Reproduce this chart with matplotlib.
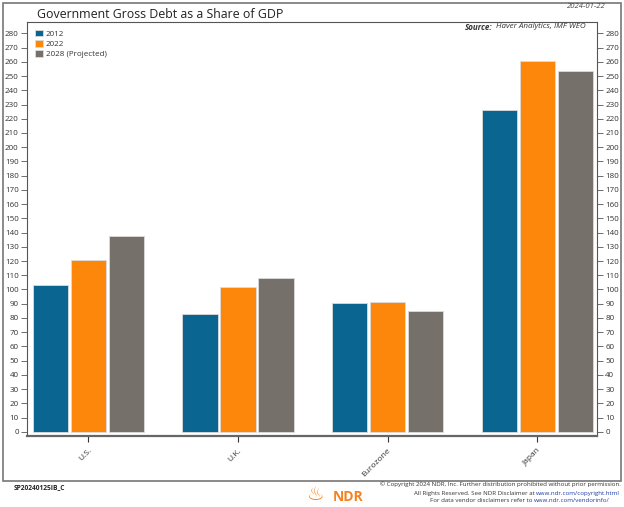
import matplotlib
matplotlib.use("Agg")
import matplotlib.pyplot as plt
import numpy as np
from matplotlib.patches import Rectangle

plt.rcParams['font.family'] = ['Open Sans', 'DejaVu Sans']

categories = ["U.S.", "U.K.", "Eurozone", "Japan"]
series_names = ["2012", "2022", "2028 (Projected)"]
v2012 = [103, 83, 90.5, 226]
v2022 = [121, 101.5, 91, 260.5]
v2028 = [137.5, 108, 85, 253.5]
yticks = list(range(0, 281, 10))
colors = ["#0b6591", "#fd870a", "#76706b"]

fig = plt.figure(figsize=(6.24, 5.07), dpi=100)
ax = fig.add_axes([27/624, 1-436/507, (597-27)/624, (436-22)/507])

x = np.arange(len(categories))
off = 0.254
w = 0.236
for i, (vals, c, name) in enumerate(zip([v2012, v2022, v2028], colors, series_names)):
    ax.bar(x + (i-1)*off, vals, width=w, color=c, edgecolor="#dcdcdc", linewidth=0.6, label=name, zorder=2)

ax.set_xlim(-0.41, 3.40)
ax.set_ylim(-3, 288)
ax.set_yticks(yticks)
ax.set_yticklabels([str(t) for t in yticks], fontsize=5.8, color="#333333")
ax.tick_params(axis='y', which='both', direction='out', length=4, width=0.6, color="#555555",
               left=True, right=True, labelleft=True, labelright=True, pad=2)
ax.set_xticks(x)
ax.set_xticklabels(categories, rotation=45, ha='right', rotation_mode='anchor', fontsize=6, color="#333333")
ax.tick_params(axis='x', direction='out', length=4, width=0.8, color="#333333", pad=4)
for s in ax.spines.values():
    s.set_color("#555555")
    s.set_linewidth(0.8)
ax.spines['bottom'].set_linewidth(1.6)
ax.spines['bottom'].set_color("#666666")

leg = ax.legend(loc='upper left', bbox_to_anchor=(0.005, 0.995), frameon=False, fontsize=5.8,
                handlelength=0.9, handleheight=0.9, handletextpad=0.4, labelspacing=0.25, borderaxespad=0.3)
for t in leg.get_texts():
    t.set_color("#333333")

# Source
fig.text(586/624, 1-27/507, "Haver Analytics, IMF WEO", ha='right', va='center',
         fontsize=5.8, style='italic', color="#333333")
fig.text(492/624, 1-27/507, "Source:", ha='right', va='center',
         fontsize=5.8, style='italic', weight='bold', color="#333333")

# Outer border
fig.patches.append(Rectangle((3/624, 1-481/507), 618/624, 478/507, transform=fig.transFigure,
                             fill=False, edgecolor="#777777", linewidth=1.2))

fig.text(37/624, 1-14/507, "Government Gross Debt as a Share of GDP", ha='left', va='center',
         fontsize=8.9, color="#222222")
fig.text(606/624, 1-7/507, "2024-01-22", ha='right', va='center', fontsize=5.5, style='italic', color="#444444")

# Footer
fig.text(14/624, 1-488/507, "SP20240125IB_C", ha='left', va='center', fontsize=4.8, weight='bold', color="#222222")
fig.text(333/624, 1-497/507, "NDR", ha='left', va='center', fontsize=10, weight='bold', color="#f58220")
fig.text(316/624, 1-495/507, "\u2668", ha='center', va='center', fontsize=14, color="#f58220")
fig.text(621/624, 1-484/507, "\u00a9 Copyright 2024 NDR, Inc. Further distribution prohibited without prior permission.",
         ha='right', va='center', fontsize=4.4, color="#333333")
fig.text(536/624, 1-493/507, "All Rights Reserved. See NDR Disclaimer at ", ha='right', va='center', fontsize=4.4, color="#333333")
fig.text(536/624, 1-493/507, "www.ndr.com/copyright.html", ha='left', va='center', fontsize=4.4, color="#1f3fa6")
fig.text(534/624, 1-501/507, "For data vendor disclaimers refer to ", ha='right', va='center', fontsize=4.4, color="#333333")
fig.text(534/624, 1-501/507, "www.ndr.com/vendorinfo/", ha='left', va='center', fontsize=4.4, color="#1f3fa6")

fig.savefig("out.png", dpi=100)
